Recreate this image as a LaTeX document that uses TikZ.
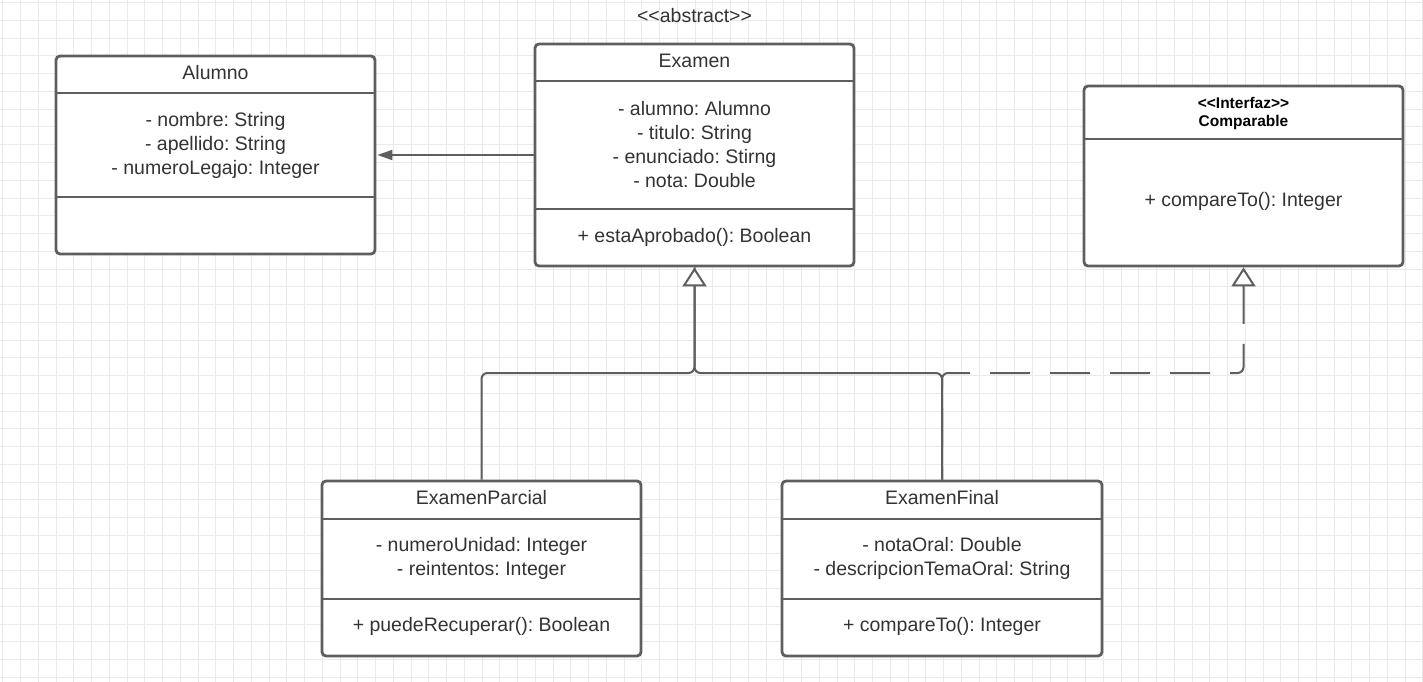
\documentclass[tikz,border=0pt]{standalone}
\usepackage{fontspec}
\setmainfont{Liberation Sans}
\usetikzlibrary{arrows.meta}
\definecolor{linec}{HTML}{5E5E5E}
\definecolor{textc}{HTML}{333333}
\definecolor{gridc}{HTML}{EAEAEA}
\frenchspacing

\begin{document}
\begin{tikzpicture}[x=1pt,y=-1pt,
  classbox/.style={draw=linec, line width=2.8pt, rounded corners=4pt, fill=white, inner sep=0pt},
  divider/.style={draw=linec, line width=2.5pt},
  txt/.style={text=textc, font=\fontsize{19.5}{24}\selectfont, align=center, inner sep=0pt},
  stereo/.style={text=black, font=\bfseries\fontsize{15.5}{18}\selectfont, align=center, inner sep=0pt},
  conn/.style={draw=linec, line width=2pt},
  inherit/.style={conn, rounded corners=6pt},
]
\useasboundingbox (0,0) rectangle (1423,682);
\fill[white] (0,0) rectangle (1423,682);

% background grid
\foreach \i in {0,...,80} {
  \draw[gridc, line width=0.9pt] (2.7+17.75*\i,0) -- (2.7+17.75*\i,682);
}
\foreach \j in {0,...,38} {
  \draw[gridc, line width=0.9pt] (0,2.7+17.75*\j) -- (1423,2.7+17.75*\j);
}

% class boxes
\node[classbox, minimum width=319pt, minimum height=198pt] (alumno) at (215.5,155) {};
\node[classbox, minimum width=319pt, minimum height=222pt] (examen) at (694.5,155) {};
\node[classbox, minimum width=319pt, minimum height=180pt] (comparable) at (1243.5,176) {};
\node[classbox, minimum width=319pt, minimum height=175pt] (parcial) at (481.5,568.5) {};
\node[classbox, minimum width=320pt, minimum height=175pt] (final) at (942,568.5) {};

% compartment dividers
\draw[divider] (alumno.west |- 0,93) -- (alumno.east |- 0,93);
\draw[divider] (alumno.west |- 0,197) -- (alumno.east |- 0,197);
\draw[divider] (examen.west |- 0,81) -- (examen.east |- 0,81);
\draw[divider] (examen.west |- 0,209) -- (examen.east |- 0,209);
\draw[divider] (comparable.west |- 0,139) -- (comparable.east |- 0,139);
\draw[divider] (parcial.west |- 0,519) -- (parcial.east |- 0,519);
\draw[divider] (parcial.west |- 0,599) -- (parcial.east |- 0,599);
\draw[divider] (final.west |- 0,519) -- (final.east |- 0,519);
\draw[divider] (final.west |- 0,599) -- (final.east |- 0,599);

% texts
\node[txt] (alumnoName) at (215.5,73) {Alumno};
\node[txt] (alumnoAttr) at (215.5,145) {- nombre: String\\- apellido: String\\- numeroLegajo: Integer};

\node[txt] (abstractTag) at (694.5,16) {<{}<abstract>{}>};
\node[txt] (examenName) at (694.5,61) {Examen};
\node[txt] (examenAttr) at (694.5,145) {- alumno: Alumno\\- titulo: String\\- enunciado: Stirng\\- nota: Double};
\node[txt] (examenOps) at (694.5,237) {+ estaAprobado(): Boolean};

\node[stereo] (comparableName) at (1243.5,113) {<{}<Interfaz>{}>\\Comparable};
\node[txt] (comparableOps) at (1243.5,201) {+ compareTo(): Integer};

\node[txt] (parcialName) at (481.5,498) {ExamenParcial};
\node[txt] (parcialAttr) at (481.5,558) {- numeroUnidad: Integer\\- reintentos: Integer};
\node[txt] (parcialOps) at (481.5,626) {+ puedeRecuperar(): Boolean};

\node[txt] (finalName) at (942,498) {ExamenFinal};
\node[txt] (finalAttr) at (942,558) {- notaOral: Double\\- descripcionTemaOral: String};
\node[txt] (finalOps) at (942,626) {+ compareTo(): Integer};

% connectors
\coordinate (bus) at (0,373);

% association Examen -> Alumno
\draw[conn, -{Triangle[length=15pt, width=10pt]}, shorten >=1pt] (examen.west) -- (alumno.east);

% ExamenFinal joins the generalization bus
\draw[inherit] (final.north) |- (examen.south |- bus) -- (examen.south);

% realization ExamenFinal -> Comparable
\draw[inherit, dash pattern=on 40pt off 20pt, dash phase=28pt,
  -{Triangle[fill=white, length=19pt, width=24pt]}]
  (final.north) |- (comparable.south |- bus) -- (comparable.south);

% generalization ExamenParcial -> Examen
\draw[inherit, -{Triangle[fill=white, length=19pt, width=24pt]}]
  (parcial.north) |- (examen.south |- bus) -- (examen.south);
\end{tikzpicture}
\end{document}
